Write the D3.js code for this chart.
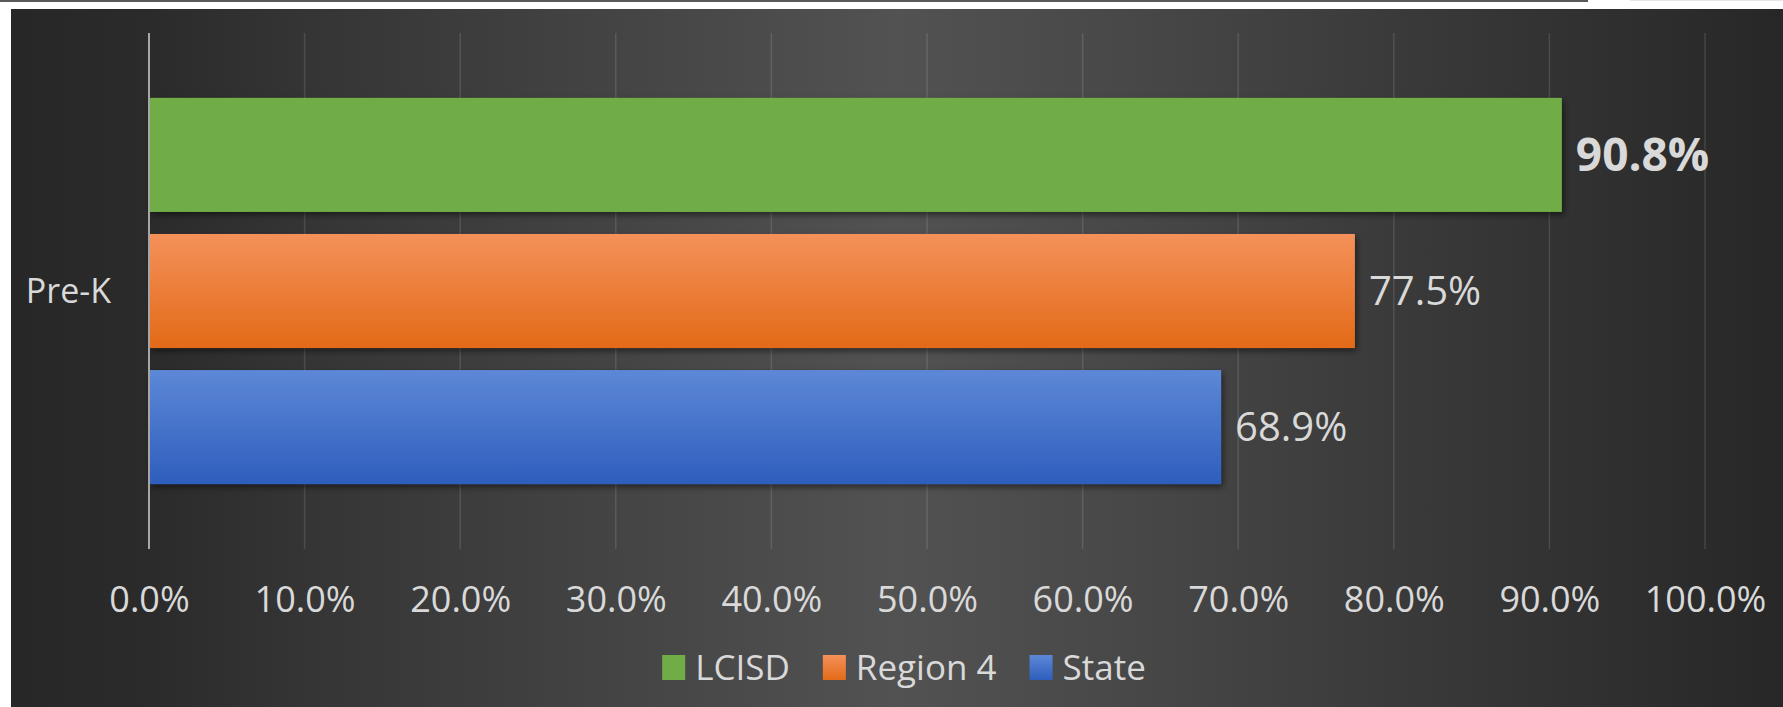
<!DOCTYPE html>
<html>
<head>
<meta charset="utf-8">
<script src="https://cdn.jsdelivr.net/npm/d3@7"></script>
<style>
  html, body { margin: 0; padding: 0; background: #fff; }
  svg { display: block; }
  text { font-family: "Open Sans", "Noto Sans", sans-serif; fill: #d9d9d9; }
</style>
</head>
<body>
<script>
const categories = ["Pre-K"];
const seriesNames = ["LCISD", "Region 4", "State"];
const values = [0.908, 0.775, 0.689];
const tickValues = [0, 0.1, 0.2, 0.3, 0.4, 0.5, 0.6, 0.7, 0.8, 0.9, 1.0];

const w = 1783;
const h = 707;
const plotTop = 33;
const plotBottom = 549;

const svg = d3.select("body")
  .append("svg")
  .attr("width", w)
  .attr("height", h);

const defs = svg.append("defs");

// background: light in the middle, dark at both sides
const bg = defs.append("linearGradient").attr("id", "bg");
[[0, "#272727"], [0.08, "#2b2b2b"], [0.17, "#353535"], [0.5, "#525252"],
 [0.64, "#474747"], [0.76, "#3c3c3c"], [1, "#272727"]].forEach(s => {
  bg.append("stop").attr("offset", s[0]).attr("stop-color", s[1]);
});

const fills = [["#70ad47", "#70ad47"], ["#f4915a", "#e36a18"], ["#5d88d7", "#2e5ebd"]];
fills.forEach((c, i) => {
  const g = defs.append("linearGradient").attr("id", "bar" + i)
    .attr("x1", 0).attr("y1", 0).attr("x2", 0).attr("y2", 1);
  g.append("stop").attr("offset", 0).attr("stop-color", c[0]);
  g.append("stop").attr("offset", 1).attr("stop-color", c[1]);
});

const shadow = defs.append("filter").attr("id", "shadow")
  .attr("x", "-5%").attr("y", "-20%").attr("width", "110%").attr("height", "150%");
shadow.append("feDropShadow")
  .attr("dx", 2).attr("dy", 3).attr("stdDeviation", 3)
  .attr("flood-color", "#000").attr("flood-opacity", 0.5);

// thin lines at the top of the page
svg.append("rect").attr("x", 0).attr("y", 0).attr("width", 1588).attr("height", 2).attr("fill", "#595959");
svg.append("rect").attr("x", 1630).attr("y", 0).attr("width", 153).attr("height", 1).attr("fill", "#e6e6e6");

svg.append("rect")
  .attr("x", 11).attr("y", 9)
  .attr("width", w - 11).attr("height", h - 9)
  .attr("fill", "url(#bg)");

const xScale = d3.scaleLinear()
  .domain([0, 1])
  .range([149, 1705]);

const y0 = d3.scaleBand()
  .domain(categories)
  .range([plotTop, plotBottom])
  .paddingOuter(0.168);

const y1 = d3.scaleBand()
  .domain(seriesNames)
  .range([0, y0.bandwidth()])
  .paddingInner(0.162);

// gridlines
svg.append("g")
  .selectAll("line")
  .data(tickValues.slice(1))
  .enter()
  .append("line")
  .attr("x1", d => xScale(d))
  .attr("x2", d => xScale(d))
  .attr("y1", plotTop)
  .attr("y2", plotBottom)
  .attr("stroke", "rgba(255,255,255,0.12)")
  .attr("stroke-width", 1.5);

// bars
const bars = svg.append("g");
categories.forEach(cat => {
  bars.selectAll("rect.s")
    .data(seriesNames)
    .enter()
    .append("rect")
    .attr("x", xScale(0))
    .attr("y", s => y0(cat) + y1(s))
    .attr("width", (s, i) => xScale(values[i]) - xScale(0))
    .attr("height", y1.bandwidth())
    .attr("fill", (s, i) => "url(#bar" + i + ")")
    .attr("filter", "url(#shadow)");

  bars.selectAll("text.v")
    .data(seriesNames)
    .enter()
    .append("text")
    .attr("x", (s, i) => xScale(values[i]) + 14)
    .attr("y", s => y0(cat) + y1(s) + y1.bandwidth() / 2)
    .attr("dy", "0.36em")
    .style("font-size", (s, i) => i === 0 ? "46px" : "40px")
    .style("font-weight", (s, i) => i === 0 ? "bold" : "normal")
    .text((s, i) => d3.format(".1%")(values[i]));
});

// category axis line
svg.append("line")
  .attr("x1", xScale(0)).attr("x2", xScale(0))
  .attr("y1", plotTop).attr("y2", plotBottom)
  .attr("stroke", "#a6a6a6")
  .attr("stroke-width", 2);

svg.append("g")
  .selectAll("text")
  .data(categories)
  .enter()
  .append("text")
  .attr("x", 111)
  .attr("y", d => y0(d) + y0.bandwidth() / 2)
  .attr("dy", "0.36em")
  .attr("text-anchor", "end")
  .style("font-size", "34px")
  .text(d => d);

// value axis labels
const xAxis = d3.axisBottom(xScale)
  .tickValues(tickValues)
  .tickFormat(d3.format(".1%"))
  .tickSize(0)
  .tickPadding(0);

const axisG = svg.append("g")
  .attr("transform", "translate(0,599)")
  .call(xAxis);
axisG.select(".domain").remove();
axisG.selectAll("text")
  .attr("y", 0)
  .attr("dy", "0.36em")
  .attr("fill", null)
  .style("font-size", "36px");
axisG.attr("font-family", null).attr("font-size", null);

// legend
const legend = svg.append("g");
let lx = 0;
seriesNames.forEach((s, i) => {
  const item = legend.append("g").attr("transform", "translate(" + lx + ",0)");
  item.append("rect")
    .attr("x", 0).attr("y", -12)
    .attr("width", 23).attr("height", 25)
    .attr("fill", "url(#bar" + i + ")");
  const t = item.append("text")
    .attr("x", 33)
    .attr("y", 0)
    .attr("dy", "0.36em")
    .style("font-size", "35px")
    .text(s);
  lx += 33 + t.node().getComputedTextLength() + 33;
});
const legendWidth = lx - 33;
legend.attr("transform", "translate(" + (904 - legendWidth / 2) + ",667)");
</script>
</body>
</html>
